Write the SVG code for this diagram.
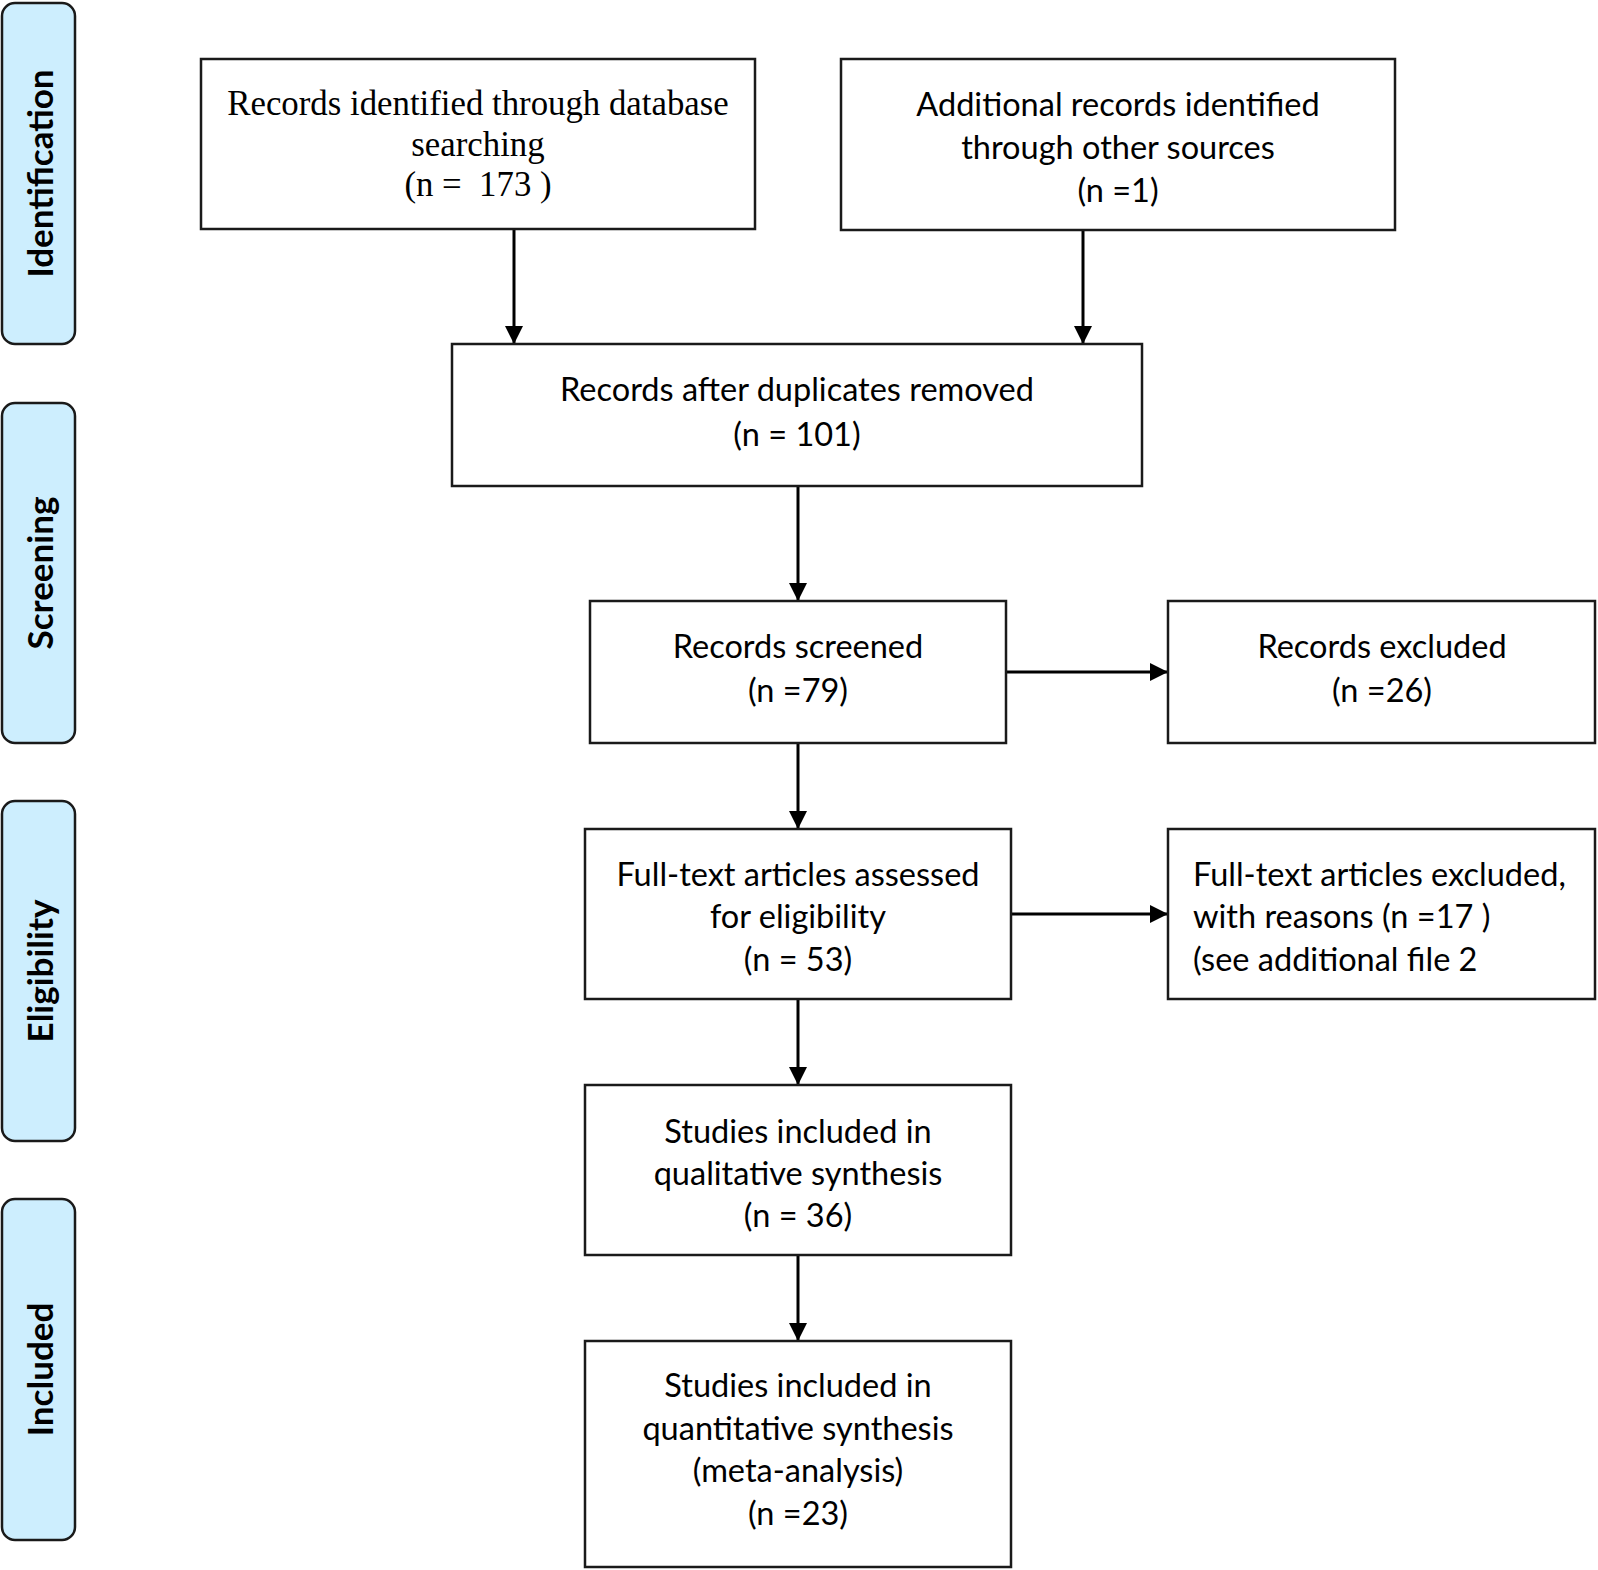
<svg xmlns="http://www.w3.org/2000/svg" width="1598" height="1570" viewBox="0 0 1598 1570">
<style>
.bg{fill:#ffffff}
.box{fill:#ffffff;stroke:#1a1a1a;stroke-width:2.5}
.side{fill:#cdeefe;stroke:#1a1a1a;stroke-width:2.5}
.t{font-family:Lato,"Liberation Sans",sans-serif;font-size:32.5px;fill:#000;text-anchor:middle}
.tl{font-family:Lato,"Liberation Sans",sans-serif;font-size:32.5px;fill:#000;text-anchor:start}
.ts{font-family:"Liberation Serif","Times New Roman",serif;font-size:34.8px;fill:#000;text-anchor:middle}
.sl{font-family:Lato,"Liberation Sans",sans-serif;font-size:35px;font-weight:bold;fill:#000;text-anchor:middle}
.c{stroke:#000;stroke-width:3;fill:none;marker-end:url(#ah)}
</style>
<defs>
<marker id="ah" markerUnits="userSpaceOnUse" markerWidth="18" markerHeight="18" refX="18" refY="9" orient="auto">
<path d="M0,0 L18,9 L0,18 z" fill="#000"/>
</marker>
</defs>
<rect class="bg" x="0" y="0" width="1598" height="1570"/>

<g id="stage-identification">
<rect class="side" x="2" y="3" width="73" height="341" rx="13"/>
<text class="sl" transform="translate(53,173.5) rotate(-90)">Identification</text>
</g>
<g id="stage-screening">
<rect class="side" x="2" y="403" width="73" height="340" rx="13"/>
<text class="sl" transform="translate(53,573) rotate(-90)">Screening</text>
</g>
<g id="stage-eligibility">
<rect class="side" x="2" y="801" width="73" height="340" rx="13"/>
<text class="sl" transform="translate(53,971) rotate(-90)">Eligibility</text>
</g>
<g id="stage-included">
<rect class="side" x="2" y="1199" width="73" height="341" rx="13"/>
<text class="sl" transform="translate(53,1369.5) rotate(-90)">Included</text>
</g>

<g id="connectors">
<line class="c" x1="514" y1="229" x2="514" y2="344"/>
<line class="c" x1="1083" y1="230" x2="1083" y2="344"/>
<line class="c" x1="798" y1="486" x2="798" y2="601"/>
<line class="c" x1="1006" y1="672" x2="1168" y2="672"/>
<line class="c" x1="798" y1="743" x2="798" y2="829"/>
<line class="c" x1="1011" y1="914" x2="1168" y2="914"/>
<line class="c" x1="798" y1="999" x2="798" y2="1085"/>
<line class="c" x1="798" y1="1255" x2="798" y2="1341"/>
</g>

<g id="n-database">
<rect class="box" x="201" y="59" width="554" height="170"/>
<text class="ts" x="478" y="115">Records identified through database</text>
<text class="ts" x="478" y="155.5">searching</text>
<text class="ts" x="478" y="196">(n =&#160; 173 )</text>
</g>
<g id="n-other">
<rect class="box" x="841" y="59" width="554" height="171"/>
<text class="t" x="1118" y="116">Additional records identified</text>
<text class="t" x="1118" y="159">through other sources</text>
<text class="t" x="1118" y="202">(n =1)</text>
</g>
<g id="n-duplicates">
<rect class="box" x="452" y="344" width="690" height="142"/>
<text class="t" x="797" y="401">Records after duplicates removed</text>
<text class="t" x="797" y="446">(n = 101)</text>
</g>
<g id="n-screened">
<rect class="box" x="590" y="601" width="416" height="142"/>
<text class="t" x="798" y="658">Records screened</text>
<text class="t" x="798" y="702">(n =79)</text>
</g>
<g id="n-excluded">
<rect class="box" x="1168" y="601" width="427" height="142"/>
<text class="t" x="1382" y="658">Records excluded</text>
<text class="t" x="1382" y="702">(n =26)</text>
</g>
<g id="n-fulltext">
<rect class="box" x="585" y="829" width="426" height="170"/>
<text class="t" x="798" y="886">Full-text articles assessed</text>
<text class="t" x="798" y="928">for eligibility</text>
<text class="t" x="798" y="971">(n = 53)</text>
</g>
<g id="n-fulltext-excluded">
<rect class="box" x="1168" y="829" width="427" height="170"/>
<text class="tl" x="1193" y="886">Full-text articles excluded,</text>
<text class="tl" x="1193" y="928">with reasons (n =17 )</text>
<text class="tl" x="1193" y="971">(see additional file 2</text>
</g>
<g id="n-qualitative">
<rect class="box" x="585" y="1085" width="426" height="170"/>
<text class="t" x="798" y="1143">Studies included in</text>
<text class="t" x="798" y="1185">qualitative synthesis</text>
<text class="t" x="798" y="1227">(n = 36)</text>
</g>
<g id="n-quantitative">
<rect class="box" x="585" y="1341" width="426" height="226"/>
<text class="t" x="798" y="1397">Studies included in</text>
<text class="t" x="798" y="1440">quantitative synthesis</text>
<text class="t" x="798" y="1482">(meta-analysis)</text>
<text class="t" x="798" y="1525">(n =23)</text>
</g>
</svg>
